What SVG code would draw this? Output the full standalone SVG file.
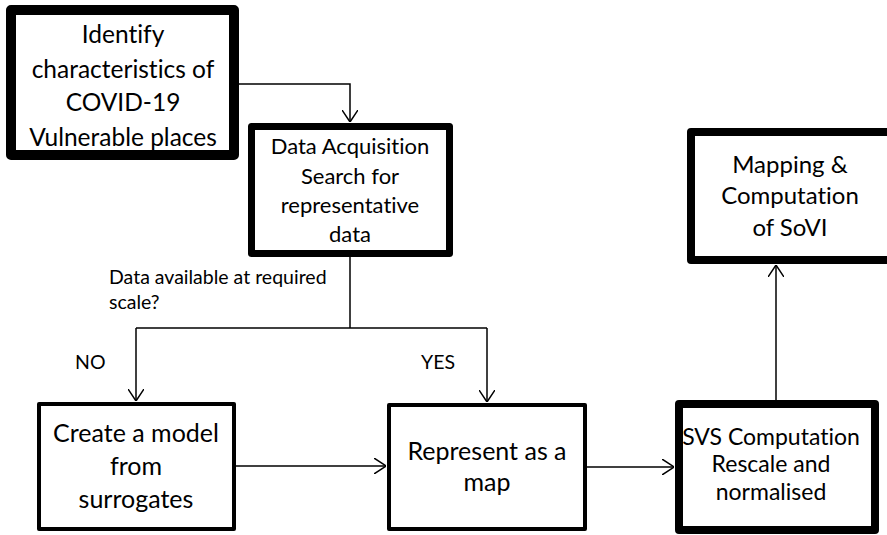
<svg xmlns="http://www.w3.org/2000/svg" width="887" height="535" viewBox="0 0 887 535">
<defs>
<style>
.box{fill:#fff;stroke:#000;stroke-linejoin:round}
.thick{stroke-width:8}
.thin{stroke-width:4}
text{font-family:Lato,"Open Sans","Liberation Sans",sans-serif;fill:#000;text-anchor:middle;font-variant-ligatures:none;font-feature-settings:"liga" 0}
.lbl{text-anchor:start;font-size:19.5px}
.conn path{fill:none;stroke:#000;stroke-width:1.5}
</style>
<marker id="ah" viewBox="0 0 12 16" refX="12" refY="8" markerWidth="12" markerHeight="16" markerUnits="userSpaceOnUse" orient="auto">
<path d="M0,0 L12,8 L0,16" fill="none" stroke="#000" stroke-width="1.5"/>
</marker>
</defs>
<rect width="887" height="535" fill="#fff"/>
<g class="conn">
<path d="M237,84 H350 V122" marker-end="url(#ah)"/>
<path d="M350,257 V328"/>
<path d="M136,328 H487"/>
<path d="M136,328 V401" marker-end="url(#ah)"/>
<path d="M487,328 V402" marker-end="url(#ah)"/>
<path d="M236,466 H386" marker-end="url(#ah)"/>
<path d="M587,467 H674" marker-end="url(#ah)"/>
<path d="M776,400 V265" marker-end="url(#ah)"/>
</g>
<g id="identify">
<rect class="box" stroke-width="10" x="11" y="10" width="223" height="145"/>
<text font-size="24.5"><tspan x="123" y="43">Identify</tspan><tspan x="123" y="78">characteristics of</tspan><tspan x="123" y="111">COVID-19</tspan><tspan x="123" y="146">Vulnerable places</tspan></text>
</g>
<g id="acquisition">
<rect class="box" stroke-width="7" x="251.5" y="126.5" width="198" height="127"/>
<text font-size="22"><tspan x="350" y="154">Data Acquisition</tspan><tspan x="350" y="184">Search for</tspan><tspan x="350" y="213">representative</tspan><tspan x="350" y="242">data</tspan></text>
</g>
<g id="mapping">
<rect class="box thick" x="691" y="132" width="202" height="128"/>
<text font-size="24"><tspan x="790" y="173">Mapping &amp;</tspan><tspan x="790" y="204">Computation</tspan><tspan x="790" y="236">of SoVI</tspan></text>
</g>
<g id="labels">
<text class="lbl"><tspan x="109" y="284">Data available at required</tspan><tspan x="109" y="309">scale?</tspan></text>
<text class="lbl" x="75" y="369">NO</text>
<text class="lbl" x="421" y="369">YES</text>
</g>
<g id="model">
<rect class="box thin" x="39" y="404" width="195" height="125"/>
<text font-size="25"><tspan x="136" y="442">Create a model</tspan><tspan x="136" y="475">from</tspan><tspan x="136" y="508">surrogates</tspan></text>
</g>
<g id="represent">
<rect class="box thin" x="389" y="405" width="196" height="124"/>
<text font-size="25"><tspan x="487" y="460">Represent as a</tspan><tspan x="487" y="491">map</tspan></text>
</g>
<g id="svs">
<rect class="box thick" x="679" y="404" width="196" height="126"/>
<text font-size="23"><tspan x="771" y="445">SVS Computation</tspan><tspan x="771" y="472">Rescale and</tspan><tspan x="771" y="500">normalised</tspan></text>
</g>
</svg>
